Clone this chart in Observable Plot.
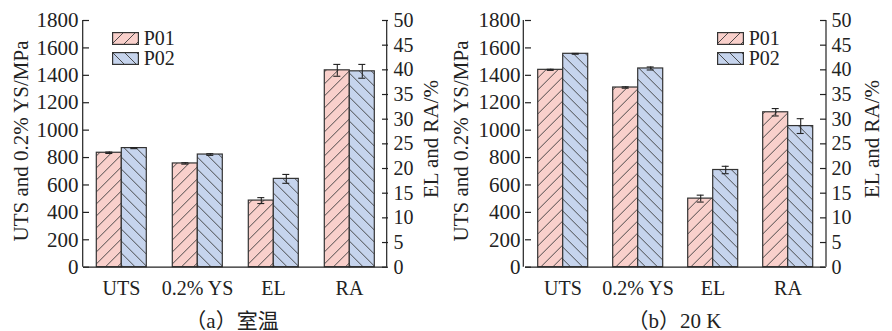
<!DOCTYPE html>
<html><head><meta charset="utf-8">
<script src="https://cdn.jsdelivr.net/npm/d3@7"></script>
<script src="https://cdn.jsdelivr.net/npm/@observablehq/plot@0.6"></script>
<style>
html,body{margin:0;padding:0;background:#fff;}
#wrap{position:relative;width:892px;height:331px;overflow:hidden;font-family:"Liberation Serif","Times New Roman",serif;color:#222;}
.panel{position:absolute;top:0;}
.ttl{position:absolute;font-size:21px;white-space:nowrap;transform:translate(-50%,-50%) rotate(-90deg);line-height:1;}
.cap{position:absolute;font-size:21px;white-space:nowrap;transform:translate(-50%,-50%);font-family:"Liberation Serif","Noto Sans CJK SC",serif;line-height:1;}
.leg{position:absolute;font-size:20px;line-height:20px;height:20px;display:flex;align-items:center;}
.leg svg{margin-right:5px;}
</style></head><body>
<svg width="0" height="0" style="position:absolute">
  <defs>
    <pattern id="hatchP01" patternUnits="userSpaceOnUse" width="12" height="12">
      <rect width="12" height="12" fill="#f9d0cb"/>
      <path d="M-3,3L3,-3M0,12L12,0M9,15L15,9" stroke="#3a3a3a" stroke-width="0.9"/>
    </pattern>
    <pattern id="hatchP02" patternUnits="userSpaceOnUse" width="12" height="12">
      <rect width="12" height="12" fill="#c6d4ed"/>
      <path d="M-3,9L3,15M0,0L12,12M9,-3L15,3" stroke="#3a3a3a" stroke-width="0.9"/>
    </pattern>
  </defs>
</svg>
<div id="wrap"></div>
<script>
// ---- data ----
const categories = ["UTS", "0.2% YS", "EL", "RA"];
const series = ["P01", "P02"];
const percentCategories = ["EL", "RA"];      // read on the right axis
const leftTicks = [0, 200, 400, 600, 800, 1000, 1200, 1400, 1600, 1800];
const rightTicks = [0, 5, 10, 15, 20, 25, 30, 35, 40, 45, 50];
const leftMax = 1800, rightMax = 50;

// (a) room temperature: UTS, YS in MPa; EL, RA in %
const roomP01 = [835, 757, 13.5, 39.9];
const roomP01Err = [5, 5, 0.6, 1.2];
const roomP02 = [869, 822, 17.9, 39.7];
const roomP02Err = [4, 6, 0.9, 1.4];
// (b) 20 K
const coldP01 = [1440, 1311, 13.9, 31.4];
const coldP01Err = [4, 5, 0.7, 0.75];
const coldP02 = [1557, 1450, 19.7, 28.6];
const coldP02Err = [3, 11, 0.75, 1.5];

const leftTitle = "UTS and 0.2% YS/MPa";
const rightTitle = "EL and RA/%";
const captions = ["（a）室温", "（b）20 K"];

// ---- build ----
const k = leftMax / rightMax;
function rowsFor(v1, e1, v2, e2) {
  const out = [];
  categories.forEach((c, i) => {
    const f = percentCategories.includes(c) ? k : 1;
    out.push({cat: c, series: "P01", value: v1[i], y: v1[i] * f, e: e1[i] * f});
    out.push({cat: c, series: "P02", value: v2[i], y: v2[i] * f, e: e2[i] * f});
  });
  return out;
}

function makePanel(rows, ml, mr) {
  const ink = "#222";
  const W = 446;
  const svg = Plot.plot({
    width: W, height: 300,
    marginLeft: ml, marginRight: mr, marginTop: 20, marginBottom: 33.3,
    style: {fontFamily: "Liberation Serif, Times New Roman, serif", fontSize: "20px", color: ink, background: "transparent", overflow: "visible"},
    fx: {domain: categories, padding: 0, label: null},
    x: {domain: series, paddingInner: 0, paddingOuter: 0.5, axis: null},
    y: {domain: [0, leftMax]},
    marks: [
      Plot.barY(rows.filter(d => d.series === "P01"), {fx: "cat", x: "series", y: "y", fill: "url(#hatchP01)", stroke: "#333", strokeWidth: 1.2}),
      Plot.barY(rows.filter(d => d.series === "P02"), {fx: "cat", x: "series", y: "y", fill: "url(#hatchP02)", stroke: "#333", strokeWidth: 1.2}),
      Plot.ruleX(rows, {fx: "cat", x: "series", y1: d => d.y - d.e, y2: d => d.y + d.e, stroke: ink, strokeWidth: 1.1}),
      Plot.tickY(rows, {fx: "cat", x: "series", y: d => d.y - d.e, inset: 9, stroke: ink, strokeWidth: 1.1}),
      Plot.tickY(rows, {fx: "cat", x: "series", y: d => d.y + d.e, inset: 9, stroke: ink, strokeWidth: 1.1}),
      Plot.ruleY([0], {stroke: ink, strokeWidth: 1.2}),
      Plot.axisY(leftTicks, {anchor: "left", tickSize: -6, tickPadding: 11, stroke: ink, strokeWidth: 1.2, label: null, fontSize: 21, tickFormat: d => String(d)}),
      Plot.axisY(rightTicks.map(v => v * k), {anchor: "right", tickSize: -6, tickPadding: 12, stroke: ink, strokeWidth: 1.2, label: null, fontSize: 20, tickFormat: d => String(Math.round(d / k))}),
      Plot.axisFx({anchor: "bottom", tickSize: 0, tickPadding: 14, label: null})
    ]
  });
  // vertical axis lines at the frame edges, spanning the y scale's range
  const y = svg.scale("y");
  const [y0, y1] = [y.apply(0), y.apply(leftMax)];
  const g = d3.select(svg).append("g").attr("stroke", ink).attr("stroke-width", 1.2);
  [ml, W - mr].forEach(xp => g.append("line").attr("x1", xp).attr("x2", xp).attr("y1", y0).attr("y2", y1));
  return svg;
}

const wrap = document.getElementById("wrap");
const panels = [
  {rows: rowsFor(roomP01, roomP01Err, roomP02, roomP02Err), left: 0, ml: 82.7, mr: 59.3,
   lt: [20.5, 140.5], rt: [431, 139], leg: [111.7, 31.7], cap: [232, 321], caption: captions[0]},
  {rows: rowsFor(coldP01, coldP01Err, coldP02, coldP02Err), left: 446, ml: 77.3, mr: 66,
   lt: [14.5, 140.5], rt: [426, 139], leg: [270.7, 31.7], cap: [228.5, 321], caption: captions[1]}
];

panels.forEach(p => {
  const div = document.createElement("div");
  div.className = "panel";
  div.style.left = p.left + "px";
  div.style.width = "446px";
  div.style.height = "331px";
  div.appendChild(makePanel(p.rows, p.ml, p.mr));
  const lt = document.createElement("div");
  lt.className = "ttl"; lt.textContent = leftTitle;
  lt.style.left = p.lt[0] + "px"; lt.style.top = p.lt[1] + "px";
  div.appendChild(lt);
  const rt = document.createElement("div");
  rt.className = "ttl"; rt.textContent = rightTitle;
  rt.style.left = p.rt[0] + "px"; rt.style.top = p.rt[1] + "px";
  div.appendChild(rt);
  series.forEach((s, i) => {
    const lg = document.createElement("div");
    lg.className = "leg";
    lg.style.left = p.leg[0] + "px";
    lg.style.top = (p.leg[1] - 3.5 + i * 20) + "px";
    lg.innerHTML = `<svg width="27" height="13"><rect x="0.6" y="0.6" width="25.8" height="11.8" fill="url(#hatch${s})" stroke="#333" stroke-width="1.2"/></svg><span>${s}</span>`;
    div.appendChild(lg);
  });
  const cap = document.createElement("div");
  cap.className = "cap"; cap.textContent = p.caption;
  cap.style.left = p.cap[0] + "px"; cap.style.top = p.cap[1] + "px";
  div.appendChild(cap);
  wrap.appendChild(div);
});
</script>
</body></html>
